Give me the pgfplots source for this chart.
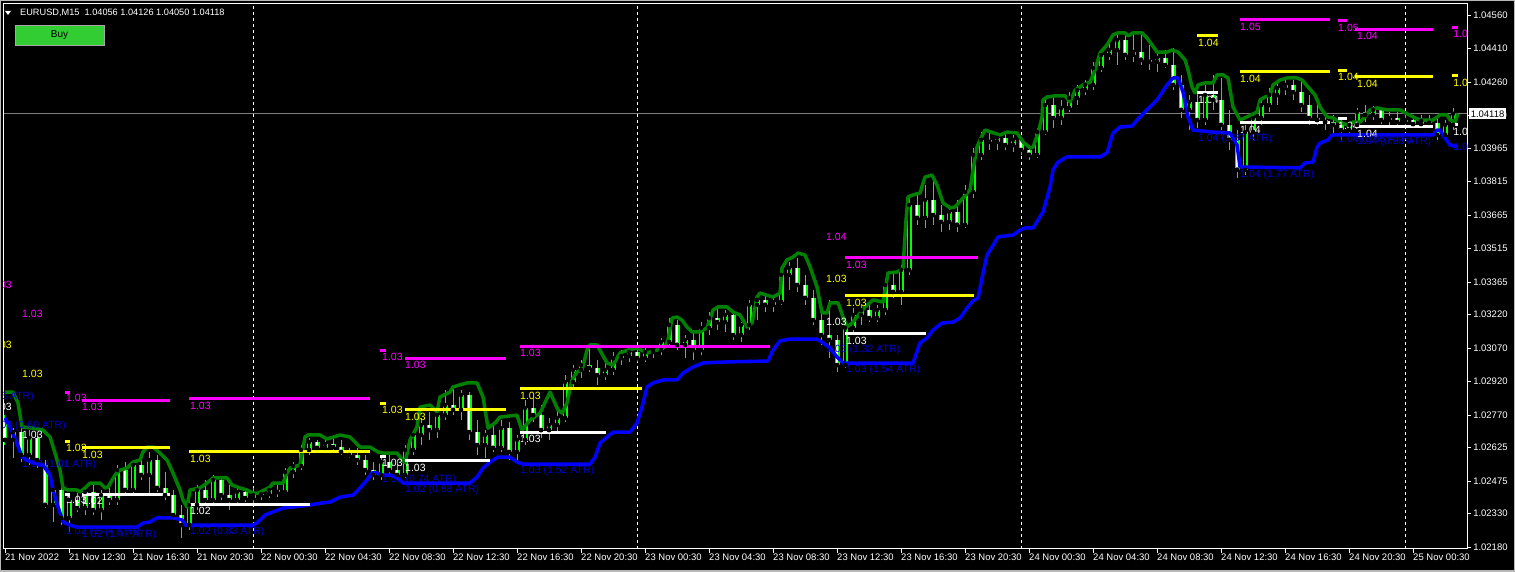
\documentclass[border=0pt]{standalone}
\usepackage{fontspec}
\setmainfont{Liberation Sans}
\usepackage{pgfplots}
\usepackage{pgfplotstable}
\pgfplotsset{compat=1.18}
\usetikzlibrary{backgrounds}
\definecolor{mtgreen}{RGB}{0,128,0}
\definecolor{mtblue}{RGB}{0,0,255}
\definecolor{txtblue}{RGB}{0,0,205}
\definecolor{mtlime}{RGB}{0,255,0}
\definecolor{mtmag}{RGB}{255,0,255}
\definecolor{mtyel}{RGB}{255,255,0}
\definecolor{btngreen}{RGB}{50,205,50}
\newcommand{\lf}{\fontsize{10.5}{12}\selectfont}
\newcommand{\af}{\fontsize{9.5}{11}\selectfont}
\tikzset{lb/.style={anchor=west, inner sep=0pt, font=\lf},
         lbe/.style={anchor=east, inner sep=0pt, font=\lf}}
\newcommand{\seg}[4]{\addplot[#1, line width=3pt, forget plot] coordinates {(#2,#4) (#3,#4)};}

\pgfplotstableread{
t o h l c
8.5 1.02748 1.02770 1.02636 1.02659
9.0 1.02659 1.02712 1.02578 1.02694
9.5 1.02694 1.02726 1.02560 1.02591
10.0 1.02591 1.02703 1.02547 1.02668
10.5 1.02668 1.02694 1.02533 1.02569
11.0 1.02547 1.02569 1.02354 1.02368
11.5 1.02368 1.02457 1.02292 1.02435
12.0 1.02435 1.02457 1.02278 1.02310
12.5 1.02310 1.02412 1.02247 1.02390
13.0 1.02390 1.02421 1.02336 1.02354
13.5 1.02354 1.02448 1.02323 1.02426
14.0 1.02426 1.02457 1.02323 1.02345
14.5 1.02345 1.02435 1.02301 1.02412
15.0 1.02412 1.02444 1.02368 1.02390
15.5 1.02390 1.02547 1.02368 1.02524
16.0 1.02524 1.02560 1.02412 1.02435
16.5 1.02435 1.02569 1.02412 1.02547
17.0 1.02547 1.02591 1.02480 1.02502
17.5 1.02502 1.02605 1.02412 1.02569
18.0 1.02569 1.02591 1.02426 1.02444
18.5 1.02444 1.02515 1.02390 1.02412
19.0 1.02412 1.02435 1.02301 1.02323
19.5 1.02323 1.02368 1.02220 1.02278
20.0 1.02278 1.02390 1.02256 1.02368
20.5 1.02368 1.02457 1.02345 1.02435
21.0 1.02435 1.02480 1.02368 1.02390
21.5 1.02390 1.02502 1.02368 1.02480
22.0 1.02480 1.02493 1.02390 1.02412
22.5 1.02412 1.02457 1.02345 1.02390
23.0 1.02390 1.02444 1.02368 1.02426
23.5 1.02426 1.02444 1.02381 1.02399
24.0 1.02399 1.02444 1.02368 1.02412
24.5 1.02412 1.02435 1.02390 1.02417
25.0 1.02417 1.02444 1.02399 1.02435
25.5 1.02435 1.02457 1.02403 1.02426
26.0 1.02426 1.02533 1.02417 1.02515
26.5 1.02515 1.02560 1.02489 1.02542
27.0 1.02542 1.02636 1.02524 1.02614
27.5 1.02614 1.02668 1.02591 1.02650
28.0 1.02650 1.02659 1.02605 1.02623
28.5 1.02623 1.02659 1.02600 1.02641
29.0 1.02641 1.02668 1.02605 1.02627
29.5 1.02627 1.02659 1.02591 1.02605
30.0 1.02605 1.02623 1.02578 1.02591
30.5 1.02591 1.02623 1.02547 1.02569
31.0 1.02569 1.02591 1.02502 1.02524
31.5 1.02524 1.02560 1.02480 1.02502
32.0 1.02502 1.02578 1.02480 1.02560
32.5 1.02560 1.02591 1.02502 1.02524
33.0 1.02524 1.02569 1.02480 1.02502
33.5 1.02502 1.02636 1.02489 1.02614
34.0 1.02614 1.02703 1.02591 1.02681
34.5 1.02681 1.02757 1.02636 1.02726
35.0 1.02726 1.02784 1.02659 1.02703
35.5 1.02703 1.02793 1.02668 1.02770
36.0 1.02770 1.02882 1.02748 1.02815
36.5 1.02815 1.02891 1.02770 1.02793
37.0 1.02793 1.02882 1.02748 1.02860
37.5 1.02860 1.02873 1.02659 1.02694
38.0 1.02694 1.02748 1.02591 1.02636
38.5 1.02636 1.02703 1.02578 1.02681
39.0 1.02681 1.02726 1.02605 1.02623
39.5 1.02623 1.02748 1.02605 1.02712
40.0 1.02712 1.02739 1.02569 1.02605
40.5 1.02605 1.02681 1.02569 1.02659
41.0 1.02659 1.02837 1.02636 1.02802
41.5 1.02802 1.02846 1.02739 1.02770
42.0 1.02770 1.02815 1.02668 1.02703
42.5 1.02703 1.02757 1.02659 1.02726
43.0 1.02726 1.02793 1.02694 1.02757
43.5 1.02757 1.02949 1.02739 1.02918
44.0 1.02918 1.02994 1.02882 1.02972
44.5 1.02972 1.03016 1.02936 1.02994
45.0 1.02994 1.03084 1.02963 1.02981
45.5 1.02981 1.03016 1.02905 1.02949
46.0 1.02949 1.03007 1.02927 1.02972
46.5 1.02972 1.03052 1.02949 1.03025
47.0 1.03025 1.03061 1.02994 1.03034
47.5 1.03034 1.03084 1.03007 1.03052
48.0 1.03052 1.03079 1.03007 1.03025
48.5 1.03025 1.03070 1.03007 1.03052
49.0 1.03052 1.03084 1.03025 1.03061
49.5 1.03061 1.03115 1.03039 1.03097
50.0 1.03097 1.03204 1.03084 1.03173
50.5 1.03173 1.03195 1.03061 1.03084
51.0 1.03084 1.03128 1.03025 1.03106
51.5 1.03106 1.03142 1.03016 1.03061
52.0 1.03061 1.03186 1.03039 1.03160
52.5 1.03160 1.03231 1.03128 1.03204
53.0 1.03204 1.03249 1.03151 1.03186
53.5 1.03186 1.03240 1.03142 1.03218
54.0 1.03218 1.03231 1.03106 1.03128
54.5 1.03128 1.03186 1.03097 1.03173
55.0 1.03173 1.03285 1.03151 1.03263
55.5 1.03263 1.03307 1.03195 1.03285
56.0 1.03285 1.03307 1.03231 1.03263
56.5 1.03263 1.03294 1.03231 1.03276
57.0 1.03276 1.03419 1.03263 1.03397
57.5 1.03397 1.03455 1.03330 1.03428
58.0 1.03428 1.03473 1.03321 1.03352
58.5 1.03352 1.03397 1.03263 1.03294
59.0 1.03294 1.03330 1.03173 1.03195
59.5 1.03195 1.03240 1.03084 1.03128
60.0 1.03128 1.03285 1.03025 1.03106
60.5 1.03106 1.03128 1.02963 1.02994
61.0 1.02994 1.03195 1.02981 1.03160
61.5 1.03160 1.03249 1.03128 1.03218
62.0 1.03218 1.03263 1.03173 1.03240
62.5 1.03240 1.03263 1.03186 1.03204
63.0 1.03204 1.03263 1.03186 1.03240
63.5 1.03240 1.03383 1.03218 1.03352
64.0 1.03352 1.03410 1.03294 1.03321
64.5 1.03321 1.03442 1.03263 1.03419
65.0 1.03419 1.03755 1.03397 1.03710
65.5 1.03710 1.03768 1.03621 1.03652
66.0 1.03652 1.03799 1.03607 1.03732
66.5 1.03732 1.03822 1.03621 1.03665
67.0 1.03665 1.03710 1.03589 1.03634
67.5 1.03634 1.03710 1.03598 1.03679
68.0 1.03679 1.03732 1.03589 1.03621
68.5 1.03621 1.03799 1.03607 1.03768
69.0 1.03768 1.03965 1.03741 1.03934
69.5 1.03934 1.04036 1.03911 1.04001
70.0 1.04001 1.04045 1.03956 1.03992
70.5 1.03992 1.04032 1.03956 1.04010
71.0 1.04010 1.04036 1.03956 1.03978
71.5 1.03978 1.04023 1.03947 1.04001
72.0 1.04001 1.04010 1.03934 1.03956
72.5 1.03956 1.03978 1.03911 1.03934
73.0 1.03934 1.04054 1.03920 1.04036
73.5 1.04036 1.04189 1.04023 1.04157
74.0 1.04157 1.04198 1.04054 1.04099
74.5 1.04099 1.04180 1.04068 1.04144
75.0 1.04144 1.04215 1.04126 1.04189
75.5 1.04189 1.04247 1.04157 1.04224
76.0 1.04224 1.04269 1.04202 1.04247
76.5 1.04247 1.04350 1.04224 1.04323
77.0 1.04323 1.04403 1.04305 1.04381
77.5 1.04381 1.04439 1.04359 1.04403
78.0 1.04403 1.04480 1.04336 1.04448
78.5 1.04448 1.04471 1.04359 1.04381
79.0 1.04381 1.04480 1.04350 1.04394
79.5 1.04394 1.04471 1.04336 1.04359
80.0 1.04359 1.04426 1.04314 1.04350
80.5 1.04350 1.04403 1.04305 1.04368
81.0 1.04368 1.04403 1.04323 1.04336
81.5 1.04336 1.04412 1.04224 1.04247
82.0 1.04247 1.04292 1.04099 1.04135
82.5 1.04135 1.04202 1.04045 1.04171
83.0 1.04171 1.04233 1.04054 1.04090
83.5 1.04090 1.04247 1.04068 1.04202
84.0 1.04202 1.04292 1.04135 1.04180
84.5 1.04180 1.04278 1.04045 1.04068
85.0 1.04068 1.04135 1.03956 1.04001
85.5 1.04001 1.04045 1.03831 1.03867
86.0 1.03867 1.04068 1.03844 1.04036
86.5 1.04036 1.04126 1.04001 1.04099
87.0 1.04099 1.04180 1.04068 1.04157
87.5 1.04157 1.04233 1.04126 1.04202
88.0 1.04202 1.04260 1.04157 1.04233
88.5 1.04233 1.04278 1.04202 1.04247
89.0 1.04247 1.04269 1.04180 1.04215
89.5 1.04215 1.04260 1.04126 1.04157
90.0 1.04157 1.04202 1.04068 1.04099
90.5 1.04099 1.04157 1.04068 1.04090
91.0 1.04090 1.04126 1.04045 1.04081
91.5 1.04081 1.04113 1.04023 1.04068
92.0 1.04068 1.04099 1.04001 1.04045
92.5 1.04045 1.04081 1.04023 1.04068
93.0 1.04068 1.04144 1.04054 1.04126
93.5 1.04126 1.04157 1.04081 1.04113
94.0 1.04113 1.04153 1.04090 1.04135
94.5 1.04135 1.04144 1.04072 1.04090
95.0 1.04090 1.04126 1.04068 1.04099
95.5 1.04099 1.04126 1.04068 1.04081
96.0 1.04081 1.04113 1.04054 1.04090
96.5 1.04090 1.04113 1.04054 1.04072
97.0 1.04072 1.04113 1.04054 1.04086
97.5 1.04086 1.04113 1.04054 1.04077
98.0 1.04077 1.04099 1.04001 1.04023
98.5 1.04023 1.04090 1.04001 1.04068
99.0 1.04068 1.04144 1.04045 1.04118
}\candles

\pgfplotstableread{
t p
8.5 1.02873
9.0 1.02873
9.3125 1.02824
9.5625 1.02717
10.25 1.02712
10.875 1.02703
11.3125 1.02672
11.625 1.02600
11.9375 1.02524
12.125 1.02444
12.4375 1.02435
13.0 1.02435
13.1875 1.02426
13.5 1.02444
13.8125 1.02466
14.4375 1.02466
14.75 1.02444
14.9375 1.02448
15.375 1.02502
15.6875 1.02524
16.125 1.02533
16.5 1.02560
16.9375 1.02569
17.125 1.02605
17.375 1.02627
17.75 1.02627
18.1875 1.02600
18.625 1.02569
19.0 1.02511
19.4375 1.02435
19.625 1.02390
19.875 1.02359
20.0625 1.02435
20.6875 1.02444
21.125 1.02466
21.5 1.02489
22.375 1.02489
22.6875 1.02457
23.1875 1.02444
23.625 1.02435
24.0 1.02421
24.3125 1.02421
25.0625 1.02448
25.25 1.02466
25.875 1.02466
26.125 1.02511
26.3125 1.02533
26.9375 1.02547
27.25 1.02672
27.4375 1.02681
28.1875 1.02681
28.625 1.02663
29.4375 1.02681
30.0625 1.02672
30.6875 1.02627
31.3125 1.02627
31.8125 1.02605
32.125 1.02600
33.0 1.02600
33.5 1.02556
33.8125 1.02659
34.25 1.02717
34.4375 1.02806
35.0625 1.02815
35.5 1.02784
35.6875 1.02851
36.3125 1.02873
36.5 1.02896
37.375 1.02914
38.0 1.02914
38.375 1.02851
38.6875 1.02712
39.125 1.02735
39.4375 1.02761
40.5 1.02770
40.8125 1.02703
41.3125 1.02748
41.9375 1.02779
42.5625 1.02873
43.0625 1.02793
43.3125 1.02779
43.625 1.02824
43.9375 1.02927
44.25 1.02963
44.5625 1.02972
44.875 1.03061
45.0625 1.03084
45.5 1.03084
46.125 1.03003
46.5 1.02994
46.9375 1.03048
47.4375 1.03061
48.0 1.03070
48.625 1.03048
49.25 1.03061
49.75 1.03075
49.9375 1.03106
50.1875 1.03204
50.5 1.03209
50.8125 1.03195
51.125 1.03164
51.4375 1.03142
51.9375 1.03142
52.375 1.03160
52.75 1.03240
53.0625 1.03254
53.625 1.03254
54.0 1.03231
54.4375 1.03218
54.875 1.03164
55.1875 1.03182
55.5 1.03298
55.6875 1.03316
56.5 1.03298
56.9375 1.03316
57.0625 1.03428
57.375 1.03464
57.75 1.03477
58.0625 1.03495
58.5 1.03486
58.8125 1.03433
59.25 1.03343
59.5625 1.03227
59.875 1.03227
60.0625 1.03272
60.5625 1.03272
60.875 1.03209
61.125 1.03164
61.4375 1.03182
61.75 1.03209
62.25 1.03254
62.75 1.03285
63.375 1.03276
63.6875 1.03406
64.25 1.03410
64.625 1.03428
64.8125 1.03643
64.9375 1.03746
65.25 1.03755
65.6875 1.03764
66.0 1.03835
66.4375 1.03844
66.75 1.03799
67.125 1.03719
67.5625 1.03697
67.875 1.03701
68.375 1.03741
68.8125 1.03777
69.0 1.03867
69.25 1.03969
69.4375 1.04001
69.75 1.04045
70.6875 1.04023
71.125 1.04036
71.75 1.04032
72.125 1.03992
72.5625 1.03965
72.75 1.03969
73.0625 1.04032
73.3125 1.04104
73.375 1.04180
73.625 1.04193
74.125 1.04198
74.75 1.04198
75.0625 1.04171
75.375 1.04224
75.875 1.04247
76.3125 1.04260
76.625 1.04314
76.9375 1.04390
77.375 1.04426
77.75 1.04471
78.0625 1.04480
78.5 1.04480
78.6875 1.04466
79.0 1.04480
79.5625 1.04480
79.875 1.04457
80.1875 1.04426
80.5 1.04394
81.125 1.04394
81.4375 1.04403
81.8125 1.04394
82.25 1.04359
82.4375 1.04314
82.6875 1.04238
82.875 1.04211
83.0625 1.04247
83.5 1.04256
84.0 1.04256
84.25 1.04292
84.625 1.04292
84.9375 1.04278
85.25 1.04148
85.6875 1.04090
86.125 1.04104
86.75 1.04126
86.9375 1.04180
87.25 1.04193
87.5625 1.04202
87.75 1.04247
88.1875 1.04269
88.625 1.04278
89.25 1.04278
89.5625 1.04269
89.9375 1.04238
90.375 1.04202
90.6875 1.04148
91.125 1.04104
91.5 1.04099
91.9375 1.04081
92.375 1.04068
92.75 1.04081
93.1875 1.04081
93.5 1.04104
93.8125 1.04135
94.25 1.04144
94.875 1.04135
95.6875 1.04135
96.125 1.04118
96.5 1.04104
96.9375 1.04090
97.75 1.04090
98.1875 1.04113
98.625 1.04113
98.8125 1.04090
99.125 1.04081
99.3125 1.04118
}\greenline

\pgfplotstableread{
t p
8.5 1.02757
8.8125 1.02717
9.25 1.02645
9.5625 1.02582
9.875 1.02569
10.25 1.02556
10.875 1.02547
11.3125 1.02502
11.5 1.02435
11.8125 1.02359
12.125 1.02292
12.5625 1.02278
13.0 1.02269
16.75 1.02269
17.125 1.02287
17.5625 1.02292
18.0 1.02310
19.0 1.02310
19.5625 1.02301
19.75 1.02278
24.0 1.02278
24.3125 1.02292
24.75 1.02323
25.875 1.02354
27.5625 1.02368
28.3125 1.02377
28.8125 1.02381
29.4375 1.02403
30.25 1.02412
30.6875 1.02444
31.125 1.02480
31.4375 1.02511
31.75 1.02511
32.0625 1.02502
32.5625 1.02502
33.0 1.02489
33.375 1.02466
37.5625 1.02466
38.0 1.02493
38.375 1.02533
38.8125 1.02560
39.3125 1.02582
40.0625 1.02582
40.5 1.02560
40.875 1.02551
45.0625 1.02551
45.375 1.02582
45.6875 1.02645
46.125 1.02672
46.5 1.02694
47.5625 1.02694
48.0 1.02735
48.3125 1.02806
48.625 1.02896
49.0 1.02914
49.625 1.02927
50.5 1.02927
50.875 1.02958
51.5 1.02985
52.125 1.03003
53.1875 1.03007
56.1875 1.03012
56.5 1.03061
56.9375 1.03102
57.5625 1.03110
59.25 1.03110
59.625 1.03093
60.0625 1.03070
60.5 1.03030
60.875 1.03003
65.25 1.03003
65.6875 1.03093
66.125 1.03115
66.5 1.03151
67.0625 1.03182
67.75 1.03186
68.1875 1.03204
68.625 1.03249
69.0 1.03281
69.3125 1.03294
69.625 1.03406
69.875 1.03486
70.1875 1.03522
70.5625 1.03567
71.5 1.03576
71.9375 1.03598
72.25 1.03607
72.75 1.03607
73.0625 1.03643
73.375 1.03679
73.8125 1.03790
74.0 1.03867
74.3125 1.03902
74.875 1.03925
76.9375 1.03925
77.375 1.03943
77.75 1.04032
78.1875 1.04059
78.9375 1.04063
79.25 1.04090
79.625 1.04118
80.5 1.04180
81.125 1.04247
81.5 1.04278
81.8125 1.04278
82.125 1.04215
82.4375 1.04104
82.75 1.04045
84.0 1.04036
85.0625 1.04032
85.5 1.03978
85.6875 1.03880
89.4375 1.03876
89.75 1.03898
90.25 1.03902
90.5 1.03969
90.6875 1.03987
91.1875 1.04001
91.4375 1.04023
97.75 1.04023
98.0 1.04045
98.1875 1.04045
98.375 1.04023
98.8125 1.03978
99.3125 1.03969
}\blueline

\begin{document}
\begin{tikzpicture}[x=1pt,y=1pt]
\begin{axis}[
  scale only axis,
  width=1463pt, height=545pt,
  xmin=8.4375, xmax=99.875, ymin=1.02171, ymax=1.04609,
  axis background/.style={fill=black},
  axis line style={white, line width=1pt},
  tick style={white, line width=0.8pt},
  tick align=outside, major tick length=4pt,
  xtick pos=bottom, xticklabel pos=bottom,
  ytick pos=right, yticklabel pos=right,
  xtick={8.5,12.5,...,96.5},
  xticklabels={21 Nov 2022,21 Nov 12:30,21 Nov 16:30,21 Nov 20:30,22 Nov 00:30,22 Nov 04:30,22 Nov 08:30,22 Nov 12:30,22 Nov 16:30,22 Nov 20:30,23 Nov 00:30,23 Nov 04:30,23 Nov 08:30,23 Nov 12:30,23 Nov 16:30,23 Nov 20:30,24 Nov 00:30,24 Nov 04:30,24 Nov 08:30,24 Nov 12:30,24 Nov 16:30,24 Nov 20:30,25 Nov 00:30},
  xticklabel style={anchor=north west, text=white, font=\af, inner xsep=0pt, inner ysep=1pt},
  ytick={1.02180,1.02330,1.02475,1.02625,1.02770,1.02920,1.03070,1.03220,1.03365,1.03515,1.03665,1.03815,1.03965,1.04110,1.04260,1.04410,1.04560},
  yticklabels={1.02180,1.02330,1.02475,1.02625,1.02770,1.02920,1.03070,1.03220,1.03365,1.03515,1.03665,1.03815,1.03965,1.04110,1.04260,1.04410,1.04560},
  yticklabel style={anchor=west, text=white, font=\af, inner xsep=2pt},
  extra x ticks={24,48,72,96}, extra x tick labels={},
  extra x tick style={grid=major, major tick length=0pt, major grid style={white, line width=0.8pt, dash pattern=on 3pt off 3pt}},
]
% current price line
\addplot[color={rgb,255:red,128;green,128;blue,128}, line width=0.8pt, forget plot] coordinates {(8.4375,1.04118) (99.875,1.04118)};
% candles: wicks
\addplot[only marks, mark=none, forget plot,
  error bars/.cd, y dir=both, y explicit, error mark=none,
  error bar style={draw=mtlime, line width=1pt}]
  table[x=t, y=c, y error plus expr=\thisrow{h}-\thisrow{c}, y error minus expr=\thisrow{c}-\thisrow{l}] {\candles};
% candles: bodies
\addplot[only marks, mark=none, forget plot,
  error bars/.cd, y dir=plus, y explicit, error mark=none,
  error bar style={draw=mtlime, line width=5pt}]
  table[x=t, y expr={min(\thisrow{o},\thisrow{c})}, y error expr={abs(\thisrow{c}-\thisrow{o})}] {\candles};
\addplot[only marks, mark=none, forget plot,
  restrict expr to domain={\thisrow{c}-\thisrow{o}}{0.000001:1},
  error bars/.cd, y dir=plus, y explicit, error mark=none,
  error bar style={draw=black, line width=1.6pt}]
  table[x=t, y expr={min(\thisrow{o},\thisrow{c})}, y error expr={abs(\thisrow{c}-\thisrow{o})}] {\candles};
\addplot[only marks, mark=none, forget plot,
  restrict expr to domain={\thisrow{c}-\thisrow{o}}{-1:-0.000001},
  error bars/.cd, y dir=plus, y explicit, error mark=none,
  error bar style={draw=white, line width=1.6pt}]
  table[x=t, y expr={min(\thisrow{o},\thisrow{c})}, y error expr={abs(\thisrow{c}-\thisrow{o})}] {\candles};
% indicator lines
\addplot[mtgreen, line width=3.5pt, line join=round, no marks, forget plot] table[x=t,y=p] {\greenline};
\addplot[mtblue, line width=3.5pt, line join=round, no marks, forget plot] table[x=t,y=p] {\blueline};
% magenta levels
\seg{mtmag}{12.25}{12.5625}{1.02873}
\seg{mtmag}{13.3125}{18.8125}{1.02837}
\seg{mtmag}{20.0}{31.3125}{1.02842}
\seg{mtmag}{31.9375}{32.3125}{1.03061}
\seg{mtmag}{33.5}{39.8125}{1.03025}
\seg{mtmag}{40.6875}{56.3125}{1.03079}
\seg{mtmag}{61.0}{69.3125}{1.03473}
\seg{mtmag}{85.6875}{91.3125}{1.04538}
\seg{mtmag}{91.8125}{92.375}{1.04533}
\seg{mtmag}{92.875}{97.75}{1.04497}
\seg{mtmag}{98.9375}{99.3125}{1.04506}
% yellow levels
\seg{mtyel}{12.25}{12.5625}{1.02650}
\seg{mtyel}{13.3125}{18.8125}{1.02627}
\seg{mtyel}{20.0}{31.3125}{1.02605}
\seg{mtyel}{31.9375}{32.3125}{1.02824}
\seg{mtyel}{33.5}{39.8125}{1.02793}
\seg{mtyel}{40.6875}{48.3125}{1.02887}
\seg{mtyel}{61.0}{69.0625}{1.03303}
\seg{mtyel}{83.0}{84.3125}{1.04466}
\seg{mtyel}{85.6875}{91.3125}{1.04305}
\seg{mtyel}{91.8125}{92.375}{1.04310}
\seg{mtyel}{92.875}{97.75}{1.04283}
\seg{mtyel}{98.9375}{99.3125}{1.04287}
% white levels
\seg{white}{12.25}{12.5625}{1.02417}
\seg{white}{13.3125}{18.8125}{1.02417}
\seg{white}{20.0}{27.5625}{1.02372}
\seg{white}{31.9375}{32.3125}{1.02587}
\seg{white}{33.5}{38.8125}{1.02565}
\seg{white}{40.6875}{46.0625}{1.02694}
\seg{white}{61.0}{66.0625}{1.03133}
\seg{white}{83.0}{84.3125}{1.04211}
\seg{white}{85.6875}{91.3125}{1.04081}
\seg{white}{91.8125}{92.375}{1.04095}
\seg{white}{92.875}{97.75}{1.04059}
\seg{white}{98.9375}{99.3125}{1.04068}
% magenta labels
\node[lbe,text=mtmag] at (axis cs:8.9375,1.03352) {1.03};
\node[lb,text=mtmag] at (axis cs:9.5625,1.03222) {1.03};
\node[lb,text=mtmag] at (axis cs:12.3125,1.02846) {1.03};
\node[lb,text=mtmag] at (axis cs:13.3125,1.02806) {1.03};
\node[lb,text=mtmag] at (axis cs:20.0625,1.02811) {1.03};
\node[lb,text=mtmag] at (axis cs:32.0625,1.03030) {1.03};
\node[lb,text=mtmag] at (axis cs:33.5,1.02994) {1.03};
\node[lb,text=mtmag] at (axis cs:40.6875,1.03048) {1.03};
\node[lb,text=mtmag] at (axis cs:59.8125,1.03567) {1.04};
\node[lb,text=mtmag] at (axis cs:61.0625,1.03442) {1.03};
\node[lb,text=mtmag] at (axis cs:85.6875,1.04506) {1.05};
\node[lb,text=mtmag] at (axis cs:91.8125,1.04502) {1.05};
\node[lb,text=mtmag] at (axis cs:93.0,1.04466) {1.04};
\node[lb,text=mtmag] at (axis cs:99.0,1.04475) {1.04};
% yellow labels
\node[lbe,text=mtyel] at (axis cs:8.9375,1.03084) {1.03};
\node[lb,text=mtyel] at (axis cs:9.5625,1.02954) {1.03};
\node[lb,text=mtyel] at (axis cs:12.3125,1.02623) {1.03};
\node[lb,text=mtyel] at (axis cs:13.3125,1.02591) {1.03};
\node[lb,text=mtyel] at (axis cs:20.0625,1.02573) {1.03};
\node[lb,text=mtyel] at (axis cs:32.0625,1.02793) {1.03};
\node[lb,text=mtyel] at (axis cs:33.5,1.02761) {1.03};
\node[lb,text=mtyel] at (axis cs:40.6875,1.02855) {1.03};
\node[lb,text=mtyel] at (axis cs:59.8125,1.03379) {1.03};
\node[lb,text=mtyel] at (axis cs:61.0625,1.03272) {1.03};
\node[lb,text=mtyel] at (axis cs:83.0625,1.04435) {1.04};
\node[lb,text=mtyel] at (axis cs:85.6875,1.04274) {1.04};
\node[lb,text=mtyel] at (axis cs:91.8125,1.04283) {1.04};
\node[lb,text=mtyel] at (axis cs:93.0,1.04251) {1.04};
\node[lb,text=mtyel] at (axis cs:99.0,1.04256) {1.04};
% white labels
\node[lbe,text=white] at (axis cs:8.9375,1.02806) {1.03};
\node[lb,text=white] at (axis cs:9.5625,1.02681) {1.03};
\node[lb,text=white] at (axis cs:12.3125,1.02390) {1.03};
\node[lb,text=white] at (axis cs:13.3125,1.02386) {1.02};
\node[lb,text=white] at (axis cs:20.0625,1.02341) {1.02};
\node[lb,text=white] at (axis cs:32.0625,1.02556) {1.03};
\node[lb,text=white] at (axis cs:33.5,1.02533) {1.03};
\node[lb,text=white] at (axis cs:40.6875,1.02663) {1.03};
\node[lb,text=white] at (axis cs:59.8125,1.03186) {1.03};
\node[lb,text=white] at (axis cs:61.0625,1.03102) {1.03};
\node[lb,text=white] at (axis cs:83.0625,1.04180) {1.04};
\node[lb,text=white] at (axis cs:85.6875,1.04045) {1.04};
\node[lb,text=white] at (axis cs:91.8125,1.04063) {1.04};
\node[lb,text=white] at (axis cs:93.0,1.04027) {1.04};
\node[lb,text=white] at (axis cs:99.0,1.04036) {1.04};
% blue ATR labels
\node[lbe,text=txtblue] at (axis cs:10.3125,1.02851) {1.03 (0.95 ATR)};
\node[lbe,text=txtblue] at (axis cs:12.3125,1.02721) {1.03 (0.60 ATR)};
\node[lb,text=txtblue] at (axis cs:9.5625,1.02547) {1.03 (1.01 ATR)};
\node[lb,text=txtblue] at (axis cs:12.3125,1.02247) {1.02 (1.44 ATR)};
\node[lb,text=txtblue] at (axis cs:13.3125,1.02234) {1.02 (1.47 ATR)};
\node[lb,text=txtblue] at (axis cs:20.0625,1.02247) {1.02 (0.83 ATR)};
\node[lb,text=txtblue] at (axis cs:32.0625,1.02480) {1.03 (0.74 ATR)};
\node[lb,text=txtblue] at (axis cs:33.5,1.02435) {1.02 (0.88 ATR)};
\node[lb,text=txtblue] at (axis cs:40.6875,1.02520) {1.03 (1.52 ATR)};
\node[lb,text=txtblue] at (axis cs:59.8125,1.03061) {1.03 (1.32 ATR)};
\node[lb,text=txtblue] at (axis cs:61.0625,1.02972) {1.03 (1.54 ATR)};
\node[lb,text=txtblue] at (axis cs:83.0625,1.04005) {1.04 (1.37 ATR)};
\node[lb,text=txtblue] at (axis cs:85.6875,1.03844) {1.04 (1.77 ATR)};
\node[lb,text=txtblue] at (axis cs:91.8125,1.04001) {1.04 (0.65 ATR)};
\node[lb,text=txtblue] at (axis cs:93.0,1.03992) {1.04 (0.38 ATR)};
\node[lb,text=txtblue] at (axis cs:99.0,1.03965) {1.04 (0.20 ATR)};
\coordinate (pricept) at (axis cs:99.875,1.04118);
\coordinate (O) at (axis cs:8.4375,1.02171);
\end{axis}
% black page background behind everything
\begin{scope}[on background layer]
\fill[black] ([shift={(-4pt,-23pt)}]O) rectangle ([shift={(1511pt,549pt)}]O);
\end{scope}
% price box
\node[fill=white, text=black, anchor=west, inner xsep=2pt, inner ysep=2pt, font=\af] at ([xshift=1.5pt]pricept) {1.04118};
% header (image px (X,Y) -> (X-4, 549-Y) from O)
\begin{scope}[shift={(O)}]
\fill[white] (1,538) -- (7,538) -- (4,534) -- cycle;
\node[anchor=west, text=white, inner sep=0pt, font=\fontsize{9.2}{11}\selectfont] at (16,536) {EURUSD,M15\ \ 1.04056 1.04126 1.04050 1.04118};
\draw[fill=btngreen, draw=gray!70] (11,524) rectangle (100,504);
\node[font=\fontsize{10}{12}\selectfont, text=black] at (55.5,514) {Buy};
\draw[gray!55, line width=3pt] (-4,-23) rectangle (1511,549);
\end{scope}
\pgfresetboundingbox
\path ([shift={(-4pt,-23pt)}]O) rectangle ([shift={(1511pt,549pt)}]O);
\end{tikzpicture}
\end{document}
